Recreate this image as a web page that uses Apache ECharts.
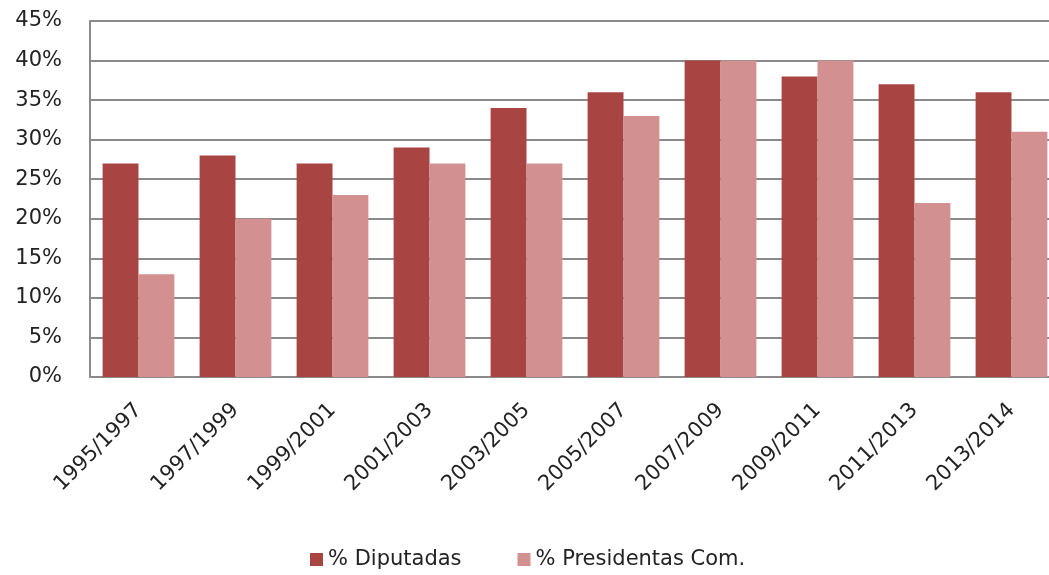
<!DOCTYPE html>
<html>
<head>
<meta charset="utf-8">
<script src="https://cdn.jsdelivr.net/npm/echarts@6/dist/echarts.min.js"></script>
<style>
  html, body { margin: 0; padding: 0; background: #fff; overflow: hidden; }
  /* the plot area runs a little past the right edge of the window */
  #chart { width: 1060px; height: 575px; }
</style>
</head>
<body>
<div id="chart"></div>
<script>
// Legislative periods
const periods = ['1995/1997', '1997/1999', '1999/2001', '2001/2003', '2003/2005',
                 '2005/2007', '2007/2009', '2009/2011', '2011/2013', '2013/2014'];
// Share of women deputies (%)
const diputadas = [27, 28, 27, 29, 34, 36, 40, 38, 37, 36];
// Share of committee chairs held by women (%)
const presidentas = [13, 20, 23, 27, 27, 33, 40, 40, 22, 31];
const seriesNames = ['% Diputadas', '% Presidentas Com.'];

const font = 'DejaVu Sans';
const chart = echarts.init(document.getElementById('chart'), null, { renderer: 'canvas' });
chart.setOption({
  animation: false,
  backgroundColor: '#ffffff',
  grid: { left: 90, top: 21, right: 0, bottom: 198, containLabel: false },
  legend: {
    bottom: 0,
    left: 305,
    itemWidth: 13,
    itemHeight: 13,
    itemGap: 56,
    icon: 'rect',
    textStyle: { fontFamily: font, fontSize: 21, color: '#222' },
    data: seriesNames
  },
  xAxis: {
    type: 'category',
    data: periods,
    axisLine: { lineStyle: { color: '#8a8a8a', width: 2 } },
    axisTick: { show: false },
    axisLabel: {
      rotate: 45,
      margin: 30,
      interval: 0,
      fontFamily: font,
      fontSize: 21,
      color: '#222'
    }
  },
  yAxis: {
    type: 'value',
    min: 0,
    max: 45,
    interval: 5,
    axisLine: { show: true, lineStyle: { color: '#8a8a8a', width: 2 } },
    axisTick: { show: false },
    splitLine: { lineStyle: { color: '#8a8a8a', width: 2 } },
    axisLabel: {
      formatter: '{value}%',
      margin: 28,
      fontFamily: font,
      fontSize: 21,
      color: '#222'
    }
  },
  series: [
    {
      name: seriesNames[0],
      type: 'bar',
      data: diputadas,
      barGap: '0%',
      barCategoryGap: '26%',
      itemStyle: { color: '#a84543' }
    },
    {
      name: seriesNames[1],
      type: 'bar',
      data: presidentas,
      itemStyle: { color: '#d29090' }
    }
  ]
});
</script>
</body>
</html>
